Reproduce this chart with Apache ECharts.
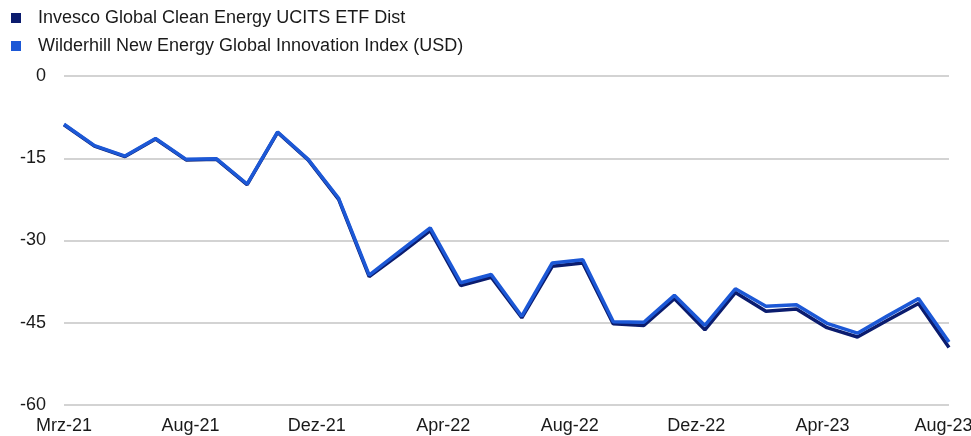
<!DOCTYPE html>
<html>
<head>
<meta charset="utf-8">
<script src="https://cdn.jsdelivr.net/npm/echarts@6/dist/echarts.min.js"></script>
<style>
html,body{margin:0;padding:0;background:#fff;}
#chart{width:971px;height:436px;}
</style>
</head>
<body>
<div id="chart"></div>
<script>
const categories = ['Mrz-21','Apr-21','Mai-21','Jun-21','Jul-21','Aug-21','Sep-21','Okt-21','Nov-21','Dez-21',
  'Jan-22','Feb-22','Mrz-22','Apr-22','Mai-22','Jun-22','Jul-22','Aug-22','Sep-22','Okt-22','Nov-22','Dez-22',
  'Jan-23','Feb-23','Mrz-23','Apr-23','Mai-23','Jun-23','Jul-23','Aug-23'];
const tickLabels = ['Mrz-21','Aug-21','Dez-21','Apr-22','Aug-22','Dez-22','Apr-23','Aug-23'];
const seriesNames = ['Invesco Global Clean Energy UCITS ETF Dist','Wilderhill New Energy Global Innovation Index (USD)'];
const etfValues = [-8.9,-12.8,-14.7,-11.5,-15.3,-15.2,-19.8,-10.3,-15.3,-22.5,-36.6,-32.5,-28.2,-38.2,-36.7,-44.1,-34.7,-34.1,-45.2,-45.5,-40.6,-46.3,-39.5,-42.9,-42.5,-45.9,-47.6,-44.5,-41.5,-49.5];
const indexValues = [-8.8,-12.7,-14.6,-11.4,-15.2,-15.1,-19.7,-10.2,-15.2,-22.3,-36.3,-32.0,-27.7,-37.7,-36.2,-43.8,-34.1,-33.5,-44.8,-44.9,-40.0,-45.5,-38.8,-42.0,-41.7,-45.1,-46.9,-43.7,-40.6,-48.5];

const FONT = '"Liberation Sans", Arial, sans-serif';
const chart = echarts.init(document.getElementById('chart'), null, {renderer:'canvas'});
chart.setOption({
  animation:false,
  backgroundColor:'#fff',
  legend:{
    orient:'vertical', left:6, top:4,
    itemWidth:10, itemHeight:10, itemGap:10,
    icon:'rect',
    data:seriesNames,
    textStyle:{fontFamily:FONT, fontSize:18, color:'#1a1a1a', padding:[0,0,0,12]}
  },
  grid:{left:64, right:22, top:76, bottom:31, outerBoundsMode:'none', containLabel:false},
  xAxis:[
    {type:'category', data:categories, boundaryGap:false, show:false},
    {type:'value', min:0, max:7, interval:1, position:'bottom',
     axisLine:{show:false}, axisTick:{show:false}, splitLine:{show:false},
     axisLabel:{fontFamily:FONT, fontSize:18, color:'#1a1a1a', margin:12,
       formatter:function(v){ const t = tickLabels[Math.round(v)]; return Math.round(v)===tickLabels.length-1 ? '{last|'+t+'}' : t; },
       rich:{last:{fontFamily:FONT, fontSize:18, color:'#1a1a1a', padding:[0,11,0,0]}}}
    }
  ],
  yAxis:{
    type:'value', min:-60, max:0, interval:15,
    axisLine:{show:false}, axisTick:{show:false},
    axisLabel:{fontFamily:FONT, fontSize:18, color:'#1a1a1a', margin:18},
    splitLine:{lineStyle:{color:'#d3d3d3', width:2}}
  },
  series:[
    {name:seriesNames[0], type:'line', xAxisIndex:0, data:etfValues, symbol:'none',
     lineStyle:{width:3.5, color:'#0b1c6e'}, itemStyle:{color:'#0b1c6e'}},
    {name:seriesNames[1], type:'line', xAxisIndex:0, data:indexValues, symbol:'none',
     lineStyle:{width:3.5, color:'#1c58d6'}, itemStyle:{color:'#1c58d6'}}
  ]
});
</script>
</body>
</html>
